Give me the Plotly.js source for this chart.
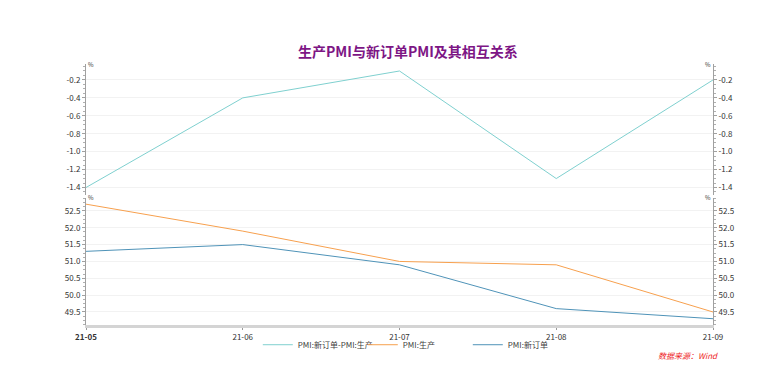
<!DOCTYPE html>
<html><head><meta charset="utf-8">
<script src="https://cdn.plot.ly/plotly-3.0.1.min.js"></script>
<style>html,body{margin:0;padding:0;background:#fff}#c{width:766px;height:377px}</style>
</head><body><div id="c"></div>
<script>
const months = ['21-05','21-06','21-07','21-08','21-09'];
const monthLabels = ['<b>21-05</b>','21-06','21-07','21-08','21-09'];
const pmiProduction = [52.7, 51.9, 51.0, 50.9, 49.5];
const pmiNewOrders = [51.3, 51.5, 50.9, 49.6, 49.3];
const pmiDiff = [-1.4, -0.4, -0.1, -1.3, -0.2];
const diffTicks = [-0.2,-0.4,-0.6,-0.8,-1.0,-1.2,-1.4];
const levelTicks = [52.5,52.0,51.5,51.0,50.5,50.0,49.5];

const font = 'Noto Sans CJK SC, Noto Sans, sans-serif';
const traces = [
  {x: months, y: pmiDiff, name: 'PMI:新订单-PMI:生产', type: 'scatter', mode: 'lines',
   xaxis: 'x', yaxis: 'y', line: {color: '#7fd0cf', width: 1}},
  {x: months, y: pmiProduction, name: 'PMI:生产', type: 'scatter', mode: 'lines',
   xaxis: 'x', yaxis: 'y3', line: {color: '#f7a04e', width: 1}},
  {x: months, y: pmiNewOrders, name: 'PMI:新订单', type: 'scatter', mode: 'lines',
   xaxis: 'x', yaxis: 'y3', line: {color: '#4f93b8', width: 1}},
  {x: months, y: pmiDiff, showlegend: false, hoverinfo: 'skip', type: 'scatter', mode: 'lines',
   xaxis: 'x', yaxis: 'y2', opacity: 0},
  {x: months, y: pmiProduction, showlegend: false, hoverinfo: 'skip', type: 'scatter', mode: 'lines',
   xaxis: 'x', yaxis: 'y4', opacity: 0}
];

function yax(extra) {
  return Object.assign({
    showline: true, linecolor: '#a0a0a0', linewidth: 1,
    ticks: 'outside', ticklen: 3, tickcolor: '#a0a0a0',
    tickfont: {size: 8, color: '#333333', family: font},
    showgrid: true, gridcolor: '#f2f2f2', zeroline: false
  }, extra);
}
const minorDiff = {ticks: 'outside', ticklen: 2, tickcolor: '#b0b0b0', dtick: 0.05, tick0: 0, showgrid: false};
const minorLevel = {ticks: 'outside', ticklen: 2, tickcolor: '#b0b0b0', dtick: 0.125, tick0: 0, showgrid: false};

const layout = {
  width: 766, height: 377,
  margin: {l: 86, r: 53, t: 64, b: 52, autoexpand: false},
  paper_bgcolor: '#fff', plot_bgcolor: '#fff',
  font: {family: font},
  showlegend: true,
  legend: {orientation: 'h', x: 0.274, xanchor: 'left', y: -0.02, yanchor: 'top',
    font: {size: 8, color: '#404040', family: font}, entrywidth: 60, entrywidthmode: 'pixels',
    itemwidth: 30, tracegroupgap: 0, bgcolor: 'rgba(0,0,0,0)'},
  xaxis: {type: 'category', range: [0, 4], tickvals: months, ticktext: monthLabels,
    showline: true, linecolor: '#d4d4d4', linewidth: 3,
    ticks: 'outside', ticklen: 2, tickcolor: '#999', showgrid: false, zeroline: false,
    tickfont: {size: 8, color: '#333333', family: font}, anchor: 'y3'},
  yaxis: yax({domain: [0.5, 1], range: [-1.478, -0.022], tickvals: diffTicks,
    ticktext: diffTicks.map(v => v.toFixed(1)), anchor: 'x', side: 'left', minor: minorDiff}),
  yaxis2: yax({domain: [0.5, 1], range: [-1.478, -0.022], tickvals: diffTicks,
    ticktext: diffTicks.map(v => v.toFixed(1)), overlaying: 'y', side: 'right', anchor: 'x',
    showgrid: false, minor: minorDiff}),
  yaxis3: yax({domain: [0, 0.487], range: [49.114, 52.886], tickvals: levelTicks,
    ticktext: levelTicks.map(v => v.toFixed(1)), anchor: 'x', side: 'left', minor: minorLevel}),
  yaxis4: yax({domain: [0, 0.487], range: [49.114, 52.886], tickvals: levelTicks,
    ticktext: levelTicks.map(v => v.toFixed(1)), overlaying: 'y3', side: 'right', anchor: 'x',
    showgrid: false, minor: minorLevel}),
  annotations: [
    {text: '<b>生产PMI与新订单PMI及其相互关系</b>', xref: 'paper', yref: 'paper', x: 0.5136, y: 1.005,
     xanchor: 'center', yanchor: 'bottom', showarrow: false,
     font: {size: 14, color: '#7d1685', family: font}},
    {text: '%', xref: 'paper', yref: 'paper', x: 0, y: 1.0, xanchor: 'left', yanchor: 'middle',
     showarrow: false, font: {size: 6, color: '#333'}},
    {text: '%', xref: 'paper', yref: 'paper', x: 1, y: 1.0, xanchor: 'right', yanchor: 'middle',
     showarrow: false, font: {size: 6, color: '#333'}},
    {text: '%', xref: 'paper', yref: 'paper', x: 0, y: 0.487, xanchor: 'left', yanchor: 'middle',
     showarrow: false, font: {size: 6, color: '#333'}},
    {text: '%', xref: 'paper', yref: 'paper', x: 1, y: 0.487, xanchor: 'right', yanchor: 'middle',
     showarrow: false, font: {size: 6, color: '#333'}},
    {text: '<i>数据来源：Wind</i>', xref: 'paper', yref: 'paper', x: 1.011, y: -0.09,
     xanchor: 'right', yanchor: 'top', showarrow: false,
     font: {size: 8, color: '#ee1c25', family: font}}
  ]
};
Plotly.newPlot('c', traces, layout, {displayModeBar: false, staticPlot: true});
</script></body></html>
